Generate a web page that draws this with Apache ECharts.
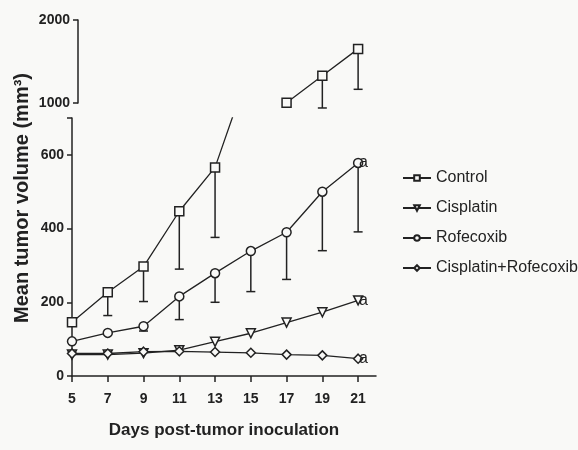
<!DOCTYPE html>
<html>
<head>
<meta charset="utf-8">
<script src="https://cdn.jsdelivr.net/npm/echarts@6/dist/echarts.min.js"></script>
<style>
  html, body { margin: 0; background: #f9f9f7; }
  #chart { width: 578px; height: 450px; }
</style>
</head>
<body>
<div id="chart"></div>
<script>
const days = [5, 7, 9, 11, 13, 15, 17, 19, 21];
const control = [146, 227, 297, 447, 566, 845, 1004, 1328, 1652];
const controlLow = [null, 164, 202, 290, 376, null, null, 940, 1165];
const cisplatin = [58, 58, 62, 70, 93, 116, 145, 173, 205];
const rofecoxib = [94, 117, 135, 216, 279, 339, 390, 500, 578];
const rofecoxibLow = [null, null, 122, 153, 200, 229, 262, 340, 391];
const combo = [61, 61, 66, 67, 65, 63, 58, 56, 47];
const lowerTicks = [0, 200, 400, 600];
const upperTicks = [1000, 2000];

const ink = '#222';
const paper = '#f9f9f7';
const font = '"Liberation Sans", Arial, sans-serif';

const pts = (vals) => days.map((d, i) => [d, vals[i]]);
const bars = (vals, low) => days.map((d, i) => [d, vals[i], low[i]]).filter(r => r[2] != null);

function renderBar(params, api) {
    const x = api.value(0);
    const top = api.coord([x, api.value(1)]);
    const low = api.coord([x, api.value(2)]);
    const st = { stroke: ink, lineWidth: 1.5 };
    return {
        type: 'group',
        children: [
            { type: 'line', shape: { x1: top[0], y1: top[1], x2: low[0], y2: low[1] }, style: st },
            { type: 'line', shape: { x1: low[0] - 4.5, y1: low[1], x2: low[0] + 4.5, y2: low[1] }, style: st }
        ]
    };
}

function lineSeries(name, data, symbol, grid, extra) {
    return Object.assign({
        name,
        type: 'line',
        data,
        xAxisIndex: grid,
        yAxisIndex: grid,
        symbol,
        symbolSize: 9,
        z: 3,
        lineStyle: { color: ink, width: 1.3 },
        itemStyle: { color: paper, borderColor: ink, borderWidth: 1.5 }
    }, extra || {});
}

const endA = { show: true, formatter: 'a', color: ink, fontFamily: font, fontSize: 16, distance: 1 };
const tickLabel = { margin: 8, fontSize: 14, fontWeight: 'bold', color: ink, fontFamily: font, formatter: v => String(v) };

const controlBars = bars(control, controlLow);

const option = {
    backgroundColor: paper,
    animation: false,
    textStyle: { fontFamily: font, color: ink },
    grid: [
        { left: 78, top: 20, width: 298, height: 83 },
        { left: 72, top: 118, width: 304, height: 258 }
    ],
    xAxis: [
        { type: 'value', gridIndex: 0, min: 5.34, max: 22, show: false },
        {
            type: 'value', gridIndex: 1, min: 5, max: 22,
            name: 'Days post-tumor inoculation',
            nameLocation: 'middle',
            nameGap: 46,
            nameTextStyle: { fontFamily: font, fontSize: 17, fontWeight: 'bold', color: ink },
            splitLine: { show: false },
            axisLine: { lineStyle: { color: ink, width: 1.5 } },
            axisTick: { customValues: days, length: 6, lineStyle: { color: ink, width: 1.5 } },
            axisLabel: Object.assign({}, tickLabel, { customValues: days, margin: 16, fontSize: 14 })
        }
    ],
    yAxis: [
        {
            type: 'value', gridIndex: 0, min: 1000, max: 2000,
            splitLine: { show: false },
            axisLine: { show: true, lineStyle: { color: ink, width: 1.5 } },
            axisTick: { customValues: upperTicks, length: 5, lineStyle: { color: ink, width: 1.5 } },
            axisLabel: Object.assign({}, tickLabel, { customValues: upperTicks })
        },
        {
            type: 'value', gridIndex: 1, min: 0, max: 700,
            splitLine: { show: false },
            axisLine: { show: true, lineStyle: { color: ink, width: 1.5 } },
            axisTick: { customValues: [0, 200, 400, 600, 700], length: 5, lineStyle: { color: ink, width: 1.5 } },
            axisLabel: Object.assign({}, tickLabel, { customValues: lowerTicks })
        }
    ],
    legend: {
        data: ['Control', 'Cisplatin', 'Rofecoxib', 'Cisplatin+Rofecoxib'],
        orient: 'vertical',
        left: 397,
        top: 165,
        itemWidth: 28,
        itemHeight: 7,
        itemGap: 14,
        textStyle: { fontFamily: font, fontSize: 16, color: ink }
    },
    graphic: [{
        type: 'text',
        x: 22,
        y: 198,
        rotation: Math.PI / 2,
        style: {
            text: 'Mean tumor volume (mm³)',
            fontFamily: font,
            fontSize: 20,
            fontWeight: 'bold',
            fill: ink,
            align: 'center',
            verticalAlign: 'middle'
        }
    }],
    series: [
        lineSeries('Control', pts(control), 'rect', 1),
        lineSeries('Control', pts(control.map(v => (v >= 1000 ? v : null))), 'rect', 0),
        lineSeries('Rofecoxib', pts(rofecoxib), 'circle', 1, { endLabel: endA }),
        lineSeries('Cisplatin', pts(cisplatin), 'triangle', 1, { symbolRotate: 180, endLabel: endA }),
        lineSeries('Cisplatin+Rofecoxib', pts(combo), 'diamond', 1, { endLabel: endA }),
        {
            type: 'custom', xAxisIndex: 1, yAxisIndex: 1, z: 1, renderItem: renderBar,
            data: controlBars.filter(r => r[1] < 1000)
        },
        {
            type: 'custom', xAxisIndex: 0, yAxisIndex: 0, z: 1, renderItem: renderBar,
            data: controlBars.filter(r => r[1] >= 1000)
        },
        {
            type: 'custom', xAxisIndex: 1, yAxisIndex: 1, z: 1, renderItem: renderBar,
            data: bars(rofecoxib, rofecoxibLow)
        }
    ]
};

const myChart = echarts.init(document.getElementById('chart'));
myChart.setOption(option);
</script>
</body>
</html>
